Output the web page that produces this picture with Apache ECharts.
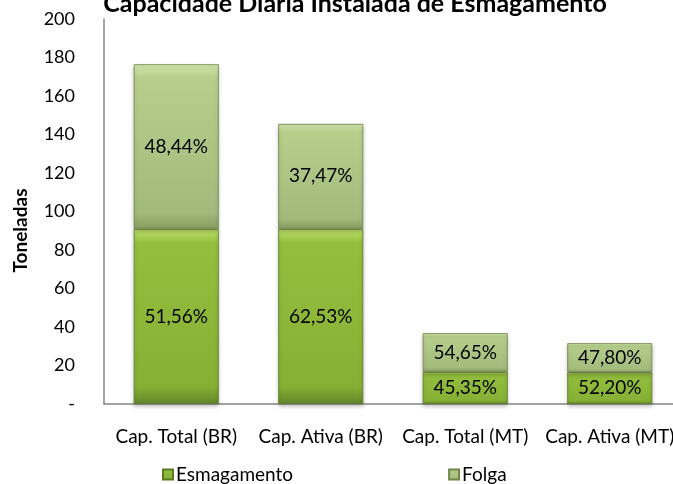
<!DOCTYPE html>
<html>
<head>
<meta charset="utf-8">
<script src="https://cdn.jsdelivr.net/npm/echarts@6/dist/echarts.min.js"></script>
<style>
  html, body { margin: 0; padding: 0; background: #fff; }
  #chart { width: 673px; height: 484px; }
</style>
</head>
<body>
<div id="chart"></div>
<script>
// dados do gráfico
const categorias = ["Cap. Total (BR)", "Cap. Ativa (BR)", "Cap. Total (MT)", "Cap. Ativa (MT)"];
const esmagamento = [91.0, 91.0, 16.7, 16.5];
const folga = [85.5, 54.5, 20.1, 15.1];
const rotEsmagamento = ["51,56%", "62,53%", "45,35%", "52,20%"];
const rotFolga = ["48,44%", "37,47%", "54,65%", "47,80%"];
const ticksY = [0, 20, 40, 60, 80, 100, 120, 140, 160, 180, 200];

const fonte = "Lato, 'Open Sans', sans-serif";

const chart = echarts.init(document.getElementById("chart"));

function gradiente(cores) {
  return new echarts.graphic.LinearGradient(0, 0, 0, 1, [
    { offset: 0, color: cores[0] },
    { offset: 0.08, color: cores[1] },
    { offset: 0.9, color: cores[2] },
    { offset: 1, color: cores[3] },
  ]);
}

const option = {
  animation: false,
  textStyle: { fontFamily: fonte },
  title: {
    text: "Capacidade Diária Instalada de Esmagamento",
    left: 350,
    textAlign: "center",
    top: -14,
    textStyle: { fontFamily: fonte, fontSize: 25, fontWeight: "bold", color: "#000" },
  },
  // a área do gráfico passa da borda direita, como no original
  grid: { left: 104, top: 19, width: 578, height: 385, outerBoundsMode: "none" },
  legend: {
    left: 157,
    top: 460,
    itemGap: 155,
    itemWidth: 10,
    itemHeight: 10,
    icon: "rect",
    textStyle: { fontFamily: fonte, fontSize: 19, color: "#000", padding: [0, 0, 0, -2] },
    data: ["Esmagamento", "Folga"],
  },
  xAxis: {
    type: "category",
    data: categorias,
    axisLine: { lineStyle: { color: "#868686", width: 1.5 } },
    axisTick: { show: false },
    axisLabel: { fontFamily: fonte, fontSize: 19, color: "#000", margin: 23, interval: 0 },
  },
  yAxis: {
    type: "value",
    min: ticksY[0],
    max: ticksY[ticksY.length - 1],
    interval: 20,
    name: "Toneladas",
    nameLocation: "middle",
    nameGap: 74,
    nameTextStyle: {
      fontFamily: fonte,
      fontSize: 19,
      fontWeight: "bold",
      color: "#000",
      padding: [0, 38, 0, 0],
    },
    axisLine: { show: true, lineStyle: { color: "#868686", width: 1.5 } },
    axisTick: { show: false },
    splitLine: { show: false },
    axisLabel: {
      fontFamily: fonte,
      fontSize: 18,
      color: "#000",
      margin: 29,
      formatter: (v) => (v === 0 ? "-" : String(v)),
    },
  },
  series: [
    {
      name: "Esmagamento",
      type: "bar",
      stack: "total",
      barWidth: 85,
      data: esmagamento,
      itemStyle: {
        color: gradiente(["#c2e46e", "#93bf3e", "#86b034", "#62852a"]),
        borderColor: "#5c7a26",
        borderWidth: 0.8,
        shadowBlur: 4,
        shadowColor: "rgba(0,0,0,0.25)",
        shadowOffsetY: 2,
      },
      label: {
        show: true,
        position: "inside",
        fontFamily: fonte,
        fontSize: 19,
        color: "#000",
        formatter: (p) => rotEsmagamento[p.dataIndex],
      },
    },
    {
      name: "Folga",
      type: "bar",
      stack: "total",
      barWidth: 85,
      data: folga,
      itemStyle: {
        color: gradiente(["#d3e8ad", "#b6cf8c", "#a2bb7c", "#859e60"]),
        borderColor: "#6e8648",
        borderWidth: 0.8,
        shadowBlur: 4,
        shadowColor: "rgba(0,0,0,0.25)",
        shadowOffsetY: 2,
      },
      label: {
        show: true,
        position: "inside",
        fontFamily: fonte,
        fontSize: 19,
        color: "#000",
        formatter: (p) => rotFolga[p.dataIndex],
      },
    },
  ],
};

chart.setOption(option);
</script>
</body>
</html>
